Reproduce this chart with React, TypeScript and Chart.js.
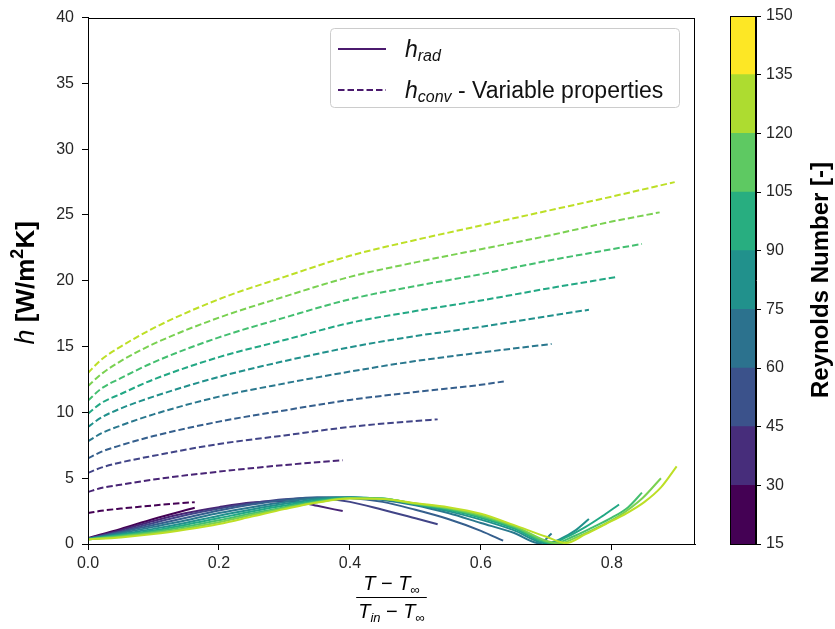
import React, { useEffect, useRef } from 'react';
import { Chart, registerables } from 'chart.js';

Chart.register(...registerables);

// ---------------- data ----------------
const reynolds = [15, 30, 45, 60, 75, 90, 105, 120, 135, 150];
const lineColors = ['#440154', '#482475', '#414487', '#355f8d', '#2a788e', '#21918c', '#22a884', '#44bf70', '#7ad151', '#bddf26'];

const cbBounds = [15, 30, 45, 60, 75, 90, 105, 120, 135, 150];
const cbColors = ['#440154', '#472d7b', '#3b528b', '#2c728e', '#21918c', '#28ae80', '#5ec962', '#addc30', '#fde725'];

const xRange = [0, 0.927];
const yRange = [0, 40];
const xStep = 0.2;
const yStep = 5;

// h_conv (dashed) curves, [x, h]
const conv15: [number, number][] = [[0, 2.35], [0.02, 2.52], [0.05, 2.69], [0.1, 2.93], [0.163, 3.18]];
const conv30: [number, number][] = [[0, 3.95], [0.02, 4.25], [0.05, 4.5], [0.1, 4.9], [0.2, 5.5], [0.3, 6.0], [0.389, 6.36]];
const conv45: [number, number][] = [[0, 5.4], [0.02, 5.8], [0.05, 6.2], [0.1, 6.7], [0.2, 7.6], [0.3, 8.25], [0.4, 8.9], [0.5, 9.35], [0.534, 9.47]];
const conv60: [number, number][] = [[0, 6.5], [0.02, 7.0], [0.05, 7.5], [0.1, 8.2], [0.2, 9.3], [0.3, 10.15], [0.4, 10.95], [0.5, 11.55], [0.6, 12.1], [0.635, 12.35]];
const conv75: [number, number][] = [[0, 7.8], [0.02, 8.4], [0.05, 9.0], [0.1, 9.85], [0.2, 11.2], [0.3, 12.2], [0.4, 13.1], [0.5, 13.9], [0.6, 14.55], [0.708, 15.2]];
const conv90: [number, number][] = [[0, 8.9], [0.02, 9.6], [0.05, 10.3], [0.1, 11.2], [0.2, 12.7], [0.3, 13.9], [0.4, 14.95], [0.5, 15.8], [0.6, 16.5], [0.7, 17.3], [0.765, 17.8]];
const conv105: [number, number][] = [[0, 9.9], [0.02, 10.7], [0.05, 11.4], [0.1, 12.5], [0.2, 14.2], [0.3, 15.5], [0.4, 16.8], [0.5, 17.7], [0.6, 18.5], [0.7, 19.4], [0.809, 20.3]];
const conv120: [number, number][] = [[0, 10.9], [0.02, 11.8], [0.05, 12.6], [0.1, 13.8], [0.2, 15.7], [0.3, 17.2], [0.4, 18.6], [0.5, 19.6], [0.6, 20.5], [0.7, 21.5], [0.8, 22.4], [0.846, 22.8]];
const conv135: [number, number][] = [[0, 12.0], [0.02, 12.9], [0.05, 13.9], [0.1, 15.2], [0.2, 17.2], [0.3, 18.8], [0.4, 20.3], [0.5, 21.4], [0.6, 22.4], [0.7, 23.4], [0.8, 24.5], [0.873, 25.2]];
const conv150: [number, number][] = [[0, 13.0], [0.02, 14.0], [0.05, 15.0], [0.1, 16.4], [0.2, 18.6], [0.3, 20.3], [0.4, 21.9], [0.5, 23.1], [0.6, 24.2], [0.7, 25.3], [0.8, 26.4], [0.896, 27.5]];

// h_rad (solid) curves, [x, h]
const rad15: [number, number][] = [[0, 0.45], [0.05, 1.15], [0.1, 1.9], [0.163, 2.75]];
const rad30: [number, number][] = [[0, 0.42], [0.05, 1.05], [0.1, 1.75], [0.15, 2.35], [0.2, 2.8], [0.25, 3.15], [0.3, 3.25], [0.33, 3.12], [0.35, 2.9], [0.389, 2.5]];
const rad45: [number, number][] = [[0, 0.4], [0.05, 0.95], [0.1, 1.6], [0.15, 2.2], [0.2, 2.7], [0.25, 3.1], [0.3, 3.4], [0.35, 3.5], [0.4, 3.2], [0.45, 2.6], [0.5, 1.95], [0.534, 1.5]];
const rad60: [number, number][] = [[0, 0.4], [0.05, 0.9], [0.1, 1.45], [0.15, 2.0], [0.2, 2.55], [0.25, 3.0], [0.3, 3.35], [0.35, 3.55], [0.4, 3.5], [0.45, 3.2], [0.5, 2.6], [0.55, 1.9], [0.6, 1.0], [0.634, 0.25]];
const rad75: [number, number][] = [[0, 0.39], [0.05, 0.82], [0.1, 1.3], [0.15, 1.8], [0.2, 2.35], [0.25, 2.8], [0.3, 3.2], [0.35, 3.5], [0.4, 3.55], [0.45, 3.35], [0.5, 2.95], [0.55, 2.35], [0.6, 1.6], [0.65, 0.85], [0.69, 0.05], [0.708, 0.8]];
const rad90: [number, number][] = [[0, 0.38], [0.05, 0.75], [0.1, 1.15], [0.15, 1.62], [0.2, 2.15], [0.25, 2.62], [0.3, 3.05], [0.35, 3.4], [0.4, 3.55], [0.45, 3.42], [0.5, 3.0], [0.55, 2.5], [0.6, 1.85], [0.65, 1.05], [0.7, 0.05], [0.72, 0.35], [0.745, 1.05], [0.765, 1.9]];
const rad105: [number, number][] = [[0, 0.37], [0.05, 0.68], [0.1, 1.03], [0.15, 1.47], [0.2, 1.97], [0.25, 2.47], [0.3, 2.92], [0.35, 3.3], [0.4, 3.52], [0.45, 3.45], [0.5, 3.03], [0.55, 2.6], [0.6, 2.0], [0.65, 1.2], [0.707, 0.05], [0.73, 0.5], [0.76, 1.3], [0.785, 2.1], [0.811, 3.0]];
const rad120: [number, number][] = [[0, 0.36], [0.05, 0.62], [0.1, 0.93], [0.15, 1.33], [0.2, 1.8], [0.25, 2.32], [0.3, 2.8], [0.35, 3.23], [0.4, 3.5], [0.45, 3.45], [0.5, 3.05], [0.55, 2.68], [0.6, 2.1], [0.65, 1.3], [0.713, 0.05], [0.74, 0.55], [0.77, 1.25], [0.8, 2.0], [0.825, 2.8], [0.846, 3.9]];
const rad135: [number, number][] = [[0, 0.35], [0.05, 0.56], [0.1, 0.83], [0.15, 1.2], [0.2, 1.65], [0.25, 2.2], [0.3, 2.72], [0.35, 3.18], [0.4, 3.47], [0.45, 3.43], [0.5, 3.07], [0.55, 2.74], [0.6, 2.2], [0.65, 1.38], [0.72, 0.05], [0.75, 0.6], [0.78, 1.3], [0.81, 2.1], [0.847, 3.5], [0.875, 5.0]];
const rad150: [number, number][] = [[0, 0.35], [0.05, 0.5], [0.1, 0.75], [0.15, 1.1], [0.2, 1.52], [0.25, 2.08], [0.3, 2.65], [0.35, 3.15], [0.4, 3.45], [0.45, 3.42], [0.5, 3.1], [0.55, 2.8], [0.6, 2.3], [0.65, 1.45], [0.7, 0.55], [0.73, 0.08], [0.76, 0.75], [0.79, 1.5], [0.823, 2.35], [0.85, 3.2], [0.875, 4.3], [0.899, 5.9]];

const radCurves = [rad15, rad30, rad45, rad60, rad75, rad90, rad105, rad120, rad135, rad150];
const convCurves = [conv15, conv30, conv45, conv60, conv75, conv90, conv105, conv120, conv135, conv150];

// ---------------- helpers ----------------
const FAM = '"Liberation Sans", Arial, sans-serif';
const W = 835;
const H = 629;
const AREA = { left: 88, right: 695, top: 16, bottom: 544 };
const CB = { left: 730, right: 756 };
const DASH = [6.5, 3];
const LW = 2;

type Part = { t: string; font: string; dy?: number };

function measureParts(ctx: CanvasRenderingContext2D, parts: Part[]) {
  let w = 0;
  for (const p of parts) {
    ctx.font = p.font;
    w += ctx.measureText(p.t).width;
  }
  return w;
}

function drawParts(ctx: CanvasRenderingContext2D, parts: Part[], x: number, y: number) {
  let cx = x;
  for (const p of parts) {
    ctx.font = p.font;
    ctx.fillText(p.t, cx, y + (p.dy || 0));
    cx += ctx.measureText(p.t).width;
  }
}

const decorPlugin = {
  id: 'decor',
  afterDraw(chart: any) {
    const ctx: CanvasRenderingContext2D = chart.ctx;
    const a = chart.chartArea;
    ctx.save();
    // frame
    ctx.strokeStyle = '#000';
    ctx.lineWidth = 1;
    ctx.strokeRect(Math.round(a.left) + 0.5, Math.round(a.top) + 0.5, Math.round(a.right - a.left) - 1, Math.round(a.bottom - a.top));

    ctx.fillStyle = '#000';
    ctx.textAlign = 'left';
    ctx.textBaseline = 'alphabetic';

    // y label
    const yParts: Part[] = [
      { t: 'h', font: `italic 27px ${FAM}` },
      { t: ' [W/m', font: `bold 26px ${FAM}` },
      { t: '2', font: `bold 18px ${FAM}`, dy: -11 },
      { t: 'K]', font: `bold 26px ${FAM}` },
    ];
    ctx.save();
    ctx.translate(34, (a.top + a.bottom) / 2 + 2);
    ctx.rotate(-Math.PI / 2);
    const yw = measureParts(ctx, yParts);
    drawParts(ctx, yParts, -yw / 2, 0);
    ctx.restore();

    // x label (fraction)
    const cx = (a.left + a.right) / 2;
    const num: Part[] = [
      { t: 'T', font: `italic 20px ${FAM}` },
      { t: ' \u2212 ', font: `20px ${FAM}` },
      { t: 'T', font: `italic 20px ${FAM}` },
      { t: '\u221e', font: `13px ${FAM}`, dy: 4 },
    ];
    const den: Part[] = [
      { t: 'T', font: `italic 20px ${FAM}` },
      { t: 'in', font: `italic 13px ${FAM}`, dy: 4 },
      { t: ' \u2212 ', font: `20px ${FAM}` },
      { t: 'T', font: `italic 20px ${FAM}` },
      { t: '\u221e', font: `13px ${FAM}`, dy: 4 },
    ];
    const nw = measureParts(ctx, num);
    const dw = measureParts(ctx, den);
    drawParts(ctx, num, cx - nw / 2, 590);
    drawParts(ctx, den, cx - dw / 2, 618);
    const bw = Math.max(nw, dw) + 4;
    ctx.beginPath();
    ctx.moveTo(cx - bw / 2, 597.5);
    ctx.lineTo(cx + bw / 2, 597.5);
    ctx.lineWidth = 1;
    ctx.stroke();

    // legend
    const lx = 330.5, ly = 28.5, lw = 349, lh = 79;
    ctx.beginPath();
    (ctx as any).roundRect(lx, ly, lw, lh, 4);
    ctx.fillStyle = 'rgba(255,255,255,0.8)';
    ctx.fill();
    ctx.strokeStyle = '#cccccc';
    ctx.lineWidth = 1;
    ctx.stroke();

    ctx.strokeStyle = '#4b1a6e';
    ctx.lineWidth = LW;
    ctx.beginPath();
    ctx.moveTo(338, 49);
    ctx.lineTo(386, 49);
    ctx.stroke();
    ctx.setLineDash(DASH);
    ctx.beginPath();
    ctx.moveTo(338, 90);
    ctx.lineTo(386, 90);
    ctx.stroke();
    ctx.setLineDash([]);

    ctx.fillStyle = '#111';
    drawParts(ctx, [
      { t: 'h', font: `italic 23px ${FAM}` },
      { t: 'rad', font: `italic 16px ${FAM}`, dy: 4 },
    ], 405, 57);
    drawParts(ctx, [
      { t: 'h', font: `italic 23px ${FAM}` },
      { t: 'conv', font: `italic 16px ${FAM}`, dy: 4 },
      { t: ' - Variable properties', font: `23px ${FAM}` },
    ], 405, 98);

    ctx.restore();
  },
};

const cbPlugin = {
  id: 'cbdecor',
  afterDraw(chart: any) {
    const ctx: CanvasRenderingContext2D = chart.ctx;
    const a = chart.chartArea;
    ctx.save();
    ctx.strokeStyle = '#000';
    ctx.lineWidth = 1;
    ctx.strokeRect(Math.round(a.left) + 0.5, Math.round(a.top) + 0.5, Math.round(a.right - a.left) - 1, Math.round(a.bottom - a.top));
    ctx.translate(828, (a.top + a.bottom) / 2);
    ctx.rotate(-Math.PI / 2);
    ctx.font = `bold 24px ${FAM}`;
    ctx.fillStyle = '#000';
    ctx.textAlign = 'center';
    ctx.textBaseline = 'alphabetic';
    ctx.fillText('Reynolds Number [-]', 0, 0);
    ctx.restore();
  },
};

const tickFont = { family: FAM, size: 16 };
const tickColor = '#262626';

export default function App() {
  const mainRef = useRef<HTMLCanvasElement>(null);
  const cbRef = useRef<HTMLCanvasElement>(null);

  useEffect(() => {
    document.body.style.margin = '0';
    const datasets: any[] = [];
    for (let k = reynolds.length - 1; k >= 0; k--) {
      datasets.push({
        label: `rad Re=${reynolds[k]}`,
        data: radCurves[k].map(([x, y]) => ({ x, y })),
        borderColor: lineColors[k],
        borderWidth: LW,
        pointRadius: 0,
        fill: false,
        cubicInterpolationMode: 'monotone',
      });
      datasets.push({
        label: `conv Re=${reynolds[k]}`,
        data: convCurves[k].map(([x, y]) => ({ x, y })),
        borderColor: lineColors[k],
        borderWidth: LW,
        borderDash: DASH,
        pointRadius: 0,
        fill: false,
        cubicInterpolationMode: 'monotone',
      });
    }

    const main = new Chart(mainRef.current!, {
      type: 'line',
      data: { datasets },
      options: {
        animation: false,
        responsive: false,
        maintainAspectRatio: false,
        layout: { padding: { left: 0, right: W - AREA.right, top: AREA.top, bottom: 0 } },
        plugins: { legend: { display: false }, tooltip: { enabled: false } },
        scales: {
          x: {
            type: 'linear',
            min: xRange[0],
            max: xRange[1],
            afterFit: (s: any) => { s.height = H - AREA.bottom; },
            ticks: {
              stepSize: xStep,
              includeBounds: false,
              maxRotation: 0,
              autoSkip: false,
              padding: 4,
              font: tickFont,
              color: tickColor,
              callback: (v: any) => Number(v).toFixed(1),
            },
            grid: { drawOnChartArea: false, tickLength: 6, tickColor: '#000', tickWidth: 1 },
            border: { color: '#000', width: 1 },
          },
          y: {
            type: 'linear',
            min: yRange[0],
            max: yRange[1],
            afterFit: (s: any) => { s.width = AREA.left; },
            ticks: { stepSize: yStep, padding: 8, font: tickFont, color: tickColor },
            grid: { drawOnChartArea: false, tickLength: 6, tickColor: '#000', tickWidth: 1 },
            border: { color: '#000', width: 1 },
          },
        },
      },
      plugins: [decorPlugin],
    } as any);

    const cb = new Chart(cbRef.current!, {
      type: 'bar',
      data: {
        labels: ['Re'],
        datasets: cbColors.map((c, i) => ({
          label: `${cbBounds[i]}-${cbBounds[i + 1]}`,
          data: [[cbBounds[i], cbBounds[i + 1]]],
          backgroundColor: c,
          borderWidth: 0,
          barPercentage: 1,
          categoryPercentage: 1,
          grouped: false,
        })),
      },
      options: {
        animation: false,
        responsive: false,
        maintainAspectRatio: false,
        layout: { padding: { left: CB.left, right: 0, top: AREA.top, bottom: H - AREA.bottom } },
        plugins: { legend: { display: false }, tooltip: { enabled: false } },
        scales: {
          x: { display: false },
          y: {
            position: 'right',
            min: cbBounds[0],
            max: cbBounds[cbBounds.length - 1],
            afterFit: (s: any) => { s.width = W - CB.right; },
            ticks: { stepSize: 15, padding: 5, font: tickFont, color: tickColor },
            grid: { drawOnChartArea: false, tickLength: 5, tickColor: '#000', tickWidth: 1 },
            border: { color: '#000', width: 1 },
          },
        },
      },
      plugins: [cbPlugin],
    } as any);

    return () => {
      main.destroy();
      cb.destroy();
    };
  }, []);

  return (
    <div style={{ position: 'fixed', left: 0, top: 0, width: W, height: H, background: '#fff' }}>
      <canvas ref={mainRef} width={W} height={H} style={{ position: 'absolute', left: 0, top: 0, width: W, height: H }} />
      <canvas ref={cbRef} width={W} height={H} style={{ position: 'absolute', left: 0, top: 0, width: W, height: H }} />
    </div>
  );
}
